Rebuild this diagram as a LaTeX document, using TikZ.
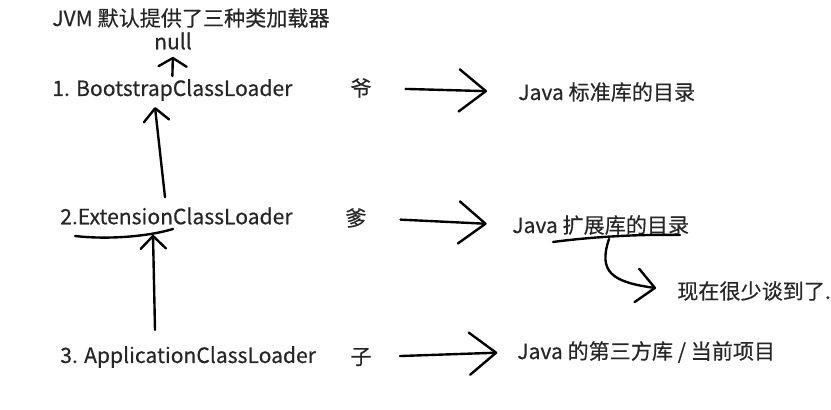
\documentclass[tikz,border=0pt]{standalone}
\usepackage{fontspec}
\setmainfont{Noto Sans CJK SC}[RawFeature={embolden=0.4}]
\usetikzlibrary{arrows.meta, positioning}

\begin{document}
\begin{tikzpicture}[
        x=0.025cm, y=-0.025cm,
        txt/.style={font=\fontsize{15}{17}\selectfont, text=black!85, inner sep=0pt, anchor=west},
        hand/.style={line width=1.7pt, line cap=round, line join=round},
        bigarrow/.style={hand, -{Straight Barb[length=19pt, width=30pt, round]}},
        midarrow/.style={hand, -{Straight Barb[length=13pt, width=24pt, round]}},
        uparrow/.style={hand, -{Straight Barb[length=9pt, width=18pt, round]}},
        smallarrow/.style={hand, -{Straight Barb[length=6pt, width=20pt, round]}}
    ]
        \useasboundingbox (0,0) rectangle (831,409);

        % Title
        \node[txt] (title) at (52,18) {JVM 默认提供了三种类加载器};
        \node[txt, anchor=center] (null) at (173,41) {null};

        % Loaders
        \node[txt] (boot) at (52,90) {1. BootstrapClassLoader};
        \node[txt] (ext) at (60,216) {2.ExtensionClassLoader};
        \node[txt] (app) at (60,357) {3. ApplicationClassLoader};

        % Nicknames
        \node[txt, anchor=center] (ye) at (361,88) {爷};
        \node[txt, anchor=center] (die) at (356,218) {爹};
        \node[txt, anchor=center] (zi) at (361,357) {子};

        % Directories
        \node[txt] (stdlib) at (518,92) {Java 标准库的目录};
        \node[txt] (extlib) at (512,225) {Java 扩展库的目录};
        \node[txt] (rare) at (677,291) {现在很少谈到了.};
        \node[txt] (thirdlib) at (517,352) {Java 的第三方库 / 当前项目};

        % Parent arrows
        \draw[smallarrow, shorten <=2pt, shorten >=5pt] (boot.north) -- (null.south);
        \draw[uparrow] ([shift={(105,-10)}]ext.north west) -- ([shift={(103,6)}]boot.south west);
        \draw[uparrow] ([shift={(95,-16)}]app.north west) -- ([shift={(93,10)}]ext.south west);

        % Underlines
        \draw[hand] (75,236) .. controls (110,240) and (150,236) .. (173,229);
        \draw[hand] (553,242) .. controls (590,237) and (640,234) .. (680,235);
        \coordinate (kink) at (609,239);

        % Directory arrows
        \draw[bigarrow, shorten <=24pt, shorten >=22pt] (ye.east) -- (stdlib.west);
        \draw[bigarrow, shorten <=24pt, shorten >=18pt] (die.east) -- (extlib.west);
        \draw[bigarrow, shorten <=20pt, shorten >=14pt] (zi.east) -- (thirdlib.west);
        \draw[midarrow, shorten >=15pt] (kink) .. controls (598,272) and (612,282) .. (rare.west);
    \end{tikzpicture}
\end{document}
